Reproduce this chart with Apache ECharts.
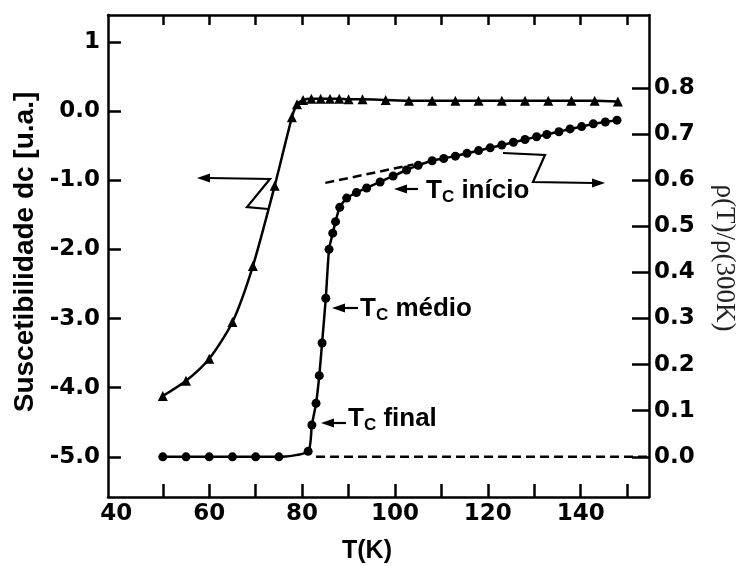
<!DOCTYPE html>
<html lang="pt">
<head>
<meta charset="UTF-8"/>
<script src="https://cdn.jsdelivr.net/npm/echarts@6/dist/echarts.min.js"></script>
<title>Suscetibilidade dc e resistividade</title>
<style>html,body{margin:0;padding:0;background:#fff;}</style>
</head>
<body>
<div id="main" style="width:747px;height:566px;"></div>
<script type="text/javascript">
// suscetibilidade dc (triangulos, eixo da esquerda)
var chiT = [50, 55, 60, 65, 69.4, 74.1, 77.8, 78.9, 80.2, 82, 84, 86, 88, 90, 93, 98, 103, 108, 113, 118, 123, 128, 133, 138, 143, 148];
var chiV = [-4.12, -3.9, -3.58, -3.05, -2.24, -1.08, -0.09, 0.1, 0.16, 0.18, 0.18, 0.18, 0.18, 0.17, 0.17, 0.16, 0.15, 0.15, 0.15, 0.15, 0.15, 0.15, 0.15, 0.15, 0.15, 0.14];

// rho(T)/rho(300K) (circulos, eixo da direita)
var rhoT = [50, 55, 60, 65, 70, 75, 81.3, 82.1, 83, 83.7, 84.3, 85.1, 85.8, 86.6, 87.2, 88.1, 89.6, 91.7, 93.9, 96.8, 99.6, 102.5, 105, 108, 110.5, 113, 115.5, 118, 120.5, 123, 125.5, 128, 130.5, 132.7, 135.3, 137.7, 140.2, 142.7, 145.3, 147.8];
var rhoV = [0, 0, 0, 0, 0, 0, 0.012, 0.069, 0.116, 0.176, 0.247, 0.344, 0.45, 0.485, 0.51, 0.541, 0.561, 0.573, 0.583, 0.596, 0.609, 0.622, 0.632, 0.642, 0.647, 0.652, 0.658, 0.664, 0.67, 0.676, 0.682, 0.688, 0.694, 0.699, 0.705, 0.711, 0.716, 0.722, 0.726, 0.73];

// retas tracejadas (extrapolacao do estado normal e rho = 0)
var tanT = [85, 104];
var tanV = [0.594, 0.634];
var zeroT = [83, 156];
var zeroV = [0, 0];

// marcas dos eixos
var xLabels = [40, 60, 80, 100, 120, 140];
var xTicks = [50, 60, 70, 80, 90, 100, 110, 120, 130, 140, 150];
var chiTicks = [-5, -4, -3, -2, -1, 0, 1];
var rhoTicks = [0, 0.1, 0.2, 0.3, 0.4, 0.5, 0.6, 0.7, 0.8];

function pairs(a, b) {
    var out = [];
    for (var i = 0; i < a.length; i++) out.push([a[i], b[i]]);
    return out;
}

var lbl = {color: '#000', fontFamily: 'DejaVu Sans', fontWeight: 'bold', fontSize: 23};
var line = {onZero: false, lineStyle: {color: '#000', width: 2.5}};

function arrowHead(x, y, dir) {
    return {type: 'polygon', shape: {points: [[x, y], [x - dir * 13, y - 4.5], [x - dir * 13, y + 4.5]]},
        style: {fill: '#000'}};
}
function path(pts) {
    return {type: 'polyline', shape: {points: pts}, style: {stroke: '#000', lineWidth: 2.2, fill: null}};
}
function tc(x, y, word) {
    return {
        type: 'text', x: x, y: y,
        style: {
            text: '{t|T}{s|C}{t| ' + word + '}',
            align: 'left', verticalAlign: 'middle',
            rich: {
                t: {fontFamily: 'Liberation Sans', fontWeight: 'bold', fontSize: 26, lineHeight: 30, fill: '#000'},
                s: {fontFamily: 'Liberation Sans', fontWeight: 'bold', fontSize: 17, lineHeight: 17, verticalAlign: 'bottom', fill: '#000'}
            }
        }
    };
}

var myChart = echarts.init(document.getElementById('main'));

var option = {
    backgroundColor: '#fff',
    animation: false,
    grid: {left: 108, right: 98, top: 15, bottom: 69},
    xAxis: [{
        type: 'value', min: 38.2, max: 154.7, position: 'bottom',
        axisLine: line,
        axisTick: {inside: true, length: 13, customValues: xTicks, lineStyle: {color: '#000', width: 2.5}},
        axisLabel: Object.assign({customValues: xLabels, margin: 6}, lbl),
        splitLine: {show: false}
    }, {
        type: 'value', min: 38.2, max: 154.7, position: 'top',
        axisLine: line,
        axisTick: {inside: true, length: 10, customValues: xTicks, lineStyle: {color: '#000', width: 2.5}},
        axisLabel: {show: false},
        splitLine: {show: false}
    }],
    yAxis: [{
        type: 'value', min: -5.58, max: 1.39, position: 'left',
        axisLine: line,
        axisTick: {inside: true, length: 13, customValues: chiTicks, lineStyle: {color: '#000', width: 2.5}},
        axisLabel: Object.assign({customValues: chiTicks, margin: 8,
            formatter: function (v) { return v === 1 ? '1' : v.toFixed(1); }}, lbl),
        splitLine: {show: false}
    }, {
        type: 'value', min: -0.087, max: 0.958, position: 'right',
        axisLine: line,
        axisTick: {inside: true, length: 17, customValues: rhoTicks, lineStyle: {color: '#000', width: 2.5}},
        axisLabel: Object.assign({customValues: rhoTicks, margin: 5,
            formatter: function (v) { return v.toFixed(1); }}, lbl),
        splitLine: {show: false}
    }],
    series: [{
        name: 'chi', type: 'line', xAxisIndex: 0, yAxisIndex: 0,
        data: pairs(chiT, chiV),
        smooth: 0.25,
        symbol: 'triangle', symbolSize: 10,
        itemStyle: {color: '#000'},
        lineStyle: {color: '#000', width: 2.5}
    }, {
        name: 'rho', type: 'line', xAxisIndex: 0, yAxisIndex: 1,
        data: pairs(rhoT, rhoV),
        smooth: 0.2,
        symbol: 'circle', symbolSize: 9,
        itemStyle: {color: '#000'},
        lineStyle: {color: '#000', width: 2.5}
    }, {
        name: 'tangente', type: 'line', xAxisIndex: 0, yAxisIndex: 1,
        data: pairs(tanT, tanV), showSymbol: false, symbol: 'none',
        lineStyle: {color: '#000', width: 2.5, type: [9, 5]}
    }, {
        name: 'zero', type: 'line', xAxisIndex: 0, yAxisIndex: 1,
        data: pairs(zeroT, zeroV), showSymbol: false, symbol: 'none', clip: true,
        lineStyle: {color: '#000', width: 2.5, type: [9, 5]}
    }],
    graphic: [
        // seta para o eixo da esquerda
        path([[268, 209], [247, 207], [270, 179], [208, 178]]),
        arrowHead(197, 178, -1),
        // seta para o eixo da direita
        path([[503, 153], [545, 155], [533, 182], [594, 183]]),
        arrowHead(605, 183, 1),
        // Tc inicio, medio, final
        path([[405, 189], [418, 189]]), arrowHead(394, 189, -1),
        tc(426, 191, 'início'),
        path([[343, 308], [358, 308]]), arrowHead(332, 308, -1),
        tc(360, 309, 'médio'),
        path([[332, 423], [346, 423]]), arrowHead(321, 423, -1),
        tc(348, 419, 'final'),
        // titulos dos eixos
        {type: 'text', x: 25, y: 252, rotation: Math.PI / 2,
            style: {text: 'Suscetibilidade dc [u.a.]', align: 'center', verticalAlign: 'middle',
                fontFamily: 'Liberation Sans', fontWeight: 'bold', fontSize: 28, fill: '#000'}},
        {type: 'text', x: 724, y: 258, rotation: -Math.PI / 2,
            style: {text: 'ρ(T)/ρ(300K)', align: 'center', verticalAlign: 'middle',
                fontFamily: 'Liberation Serif', fontSize: 27, fill: '#222'}},
        {type: 'text', x: 367, y: 551,
            style: {text: 'T(K)', align: 'center', verticalAlign: 'middle',
                fontFamily: 'Liberation Sans', fontWeight: 'bold', fontSize: 25, fill: '#000'}}
    ]
};

myChart.setOption(option);
</script>
</body>
</html>
